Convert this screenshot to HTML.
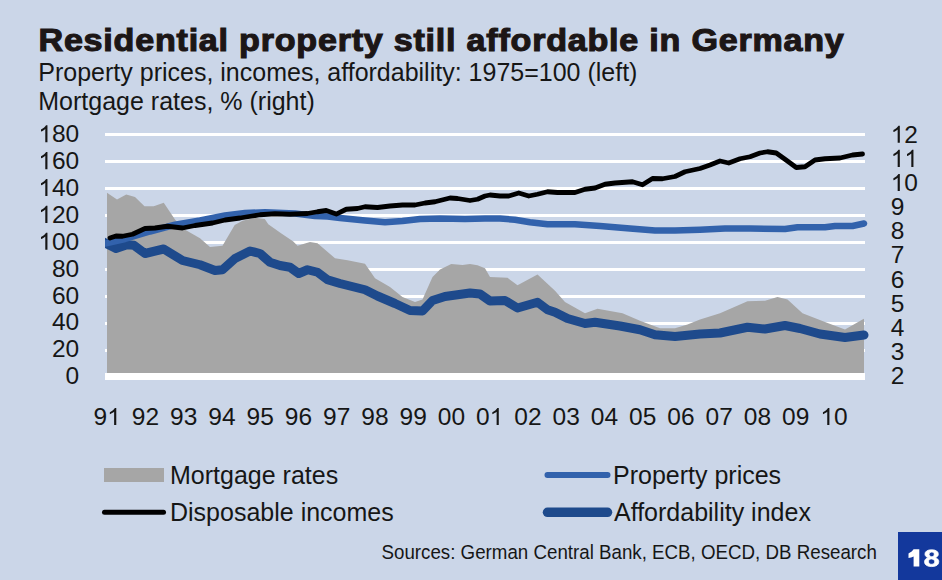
<!DOCTYPE html>
<html><head><meta charset="utf-8"><style>
html,body{margin:0;padding:0;}
body{width:942px;height:580px;overflow:hidden;background:#CBD6E8;position:relative;font-family:"Liberation Sans",sans-serif;}
svg{position:absolute;left:0;top:0;}
text{font-family:"Liberation Sans",sans-serif;fill:#161616;}
</style></head><body>
<svg width="942" height="580" viewBox="0 0 942 580">
<text transform="translate(38.5,51.3) scale(1.1,1)" font-size="31" font-weight="bold" stroke="#1c1616" stroke-width="1.1" letter-spacing="0.7" style="fill:#1c1616">Residential property still affordable in Germany</text>
<text x="38.3" y="81" font-size="25">Property prices, incomes, affordability: 1975=100 (left)</text>
<text x="38.3" y="110.2" font-size="25">Mortgage rates, % (right)</text>
<rect x="105" y="133" width="760" height="3" fill="#fff"/><rect x="105" y="160" width="760" height="3" fill="#fff"/><rect x="105" y="187" width="760" height="3" fill="#fff"/><rect x="105" y="214" width="760" height="3" fill="#fff"/><rect x="105" y="241" width="760" height="3" fill="#fff"/><rect x="105" y="268" width="760" height="3" fill="#fff"/><rect x="105" y="295" width="760" height="3" fill="#fff"/><rect x="105" y="322" width="760" height="3" fill="#fff"/><rect x="105" y="349" width="760" height="3" fill="#fff"/>
<polygon points="107.00,373.00 107.00,192.75 117.00,199.50 126.25,194.50 135.00,197.00 144.50,206.25 153.75,206.25 163.75,202.75 175.00,219.50 182.50,228.25 200.00,238.25 210.00,247.00 222.50,245.75 234.70,225.05 242.50,220.75 255.00,217.75 264.80,219.05 268.30,224.15 280.30,232.75 293.30,241.45 297.50,245.75 310.00,242.00 317.50,243.25 335.00,258.25 347.50,260.25 365.00,263.75 375.00,278.25 390.00,287.00 402.50,297.00 415.00,302.00 422.50,299.50 432.50,277.00 440.00,269.50 451.25,264.00 462.50,265.00 470.00,264.00 477.50,265.25 485.00,268.25 490.00,277.00 507.50,277.75 517.50,285.25 537.50,274.50 555.00,290.75 565.00,302.00 585.00,313.25 597.50,308.75 622.50,313.25 640.00,320.75 660.00,328.25 675.00,328.25 687.50,324.50 700.00,319.50 720.00,313.25 747.50,301.25 765.00,300.75 777.50,297.00 787.50,299.50 802.50,313.25 825.00,322.00 845.00,329.50 862.50,319.50 864.00,318.75 864.00,373.00" fill="#A6A6A6"/>
<rect x="105" y="373" width="760" height="7" fill="#fff"/>
<defs><clipPath id="cp"><rect x="105" y="0" width="837" height="580"/></clipPath></defs><g clip-path="url(#cp)">
<polyline points="103.00,241.80 116.00,248.50 127.00,244.80 134.00,245.30 145.00,253.50 163.75,249.00 182.50,260.50 200.00,264.75 215.00,270.50 222.50,269.75 235.00,258.50 250.00,251.00 260.00,253.50 270.00,262.25 280.00,265.50 290.00,267.25 298.75,273.50 307.50,269.75 317.50,272.25 327.50,279.75 340.00,283.50 365.00,289.75 377.50,296.00 395.00,303.50 410.00,310.50 422.50,311.00 432.50,300.50 445.00,296.50 457.50,294.75 470.00,293.00 480.00,294.00 490.00,301.00 505.00,300.50 517.50,308.00 537.50,302.25 547.50,309.75 555.00,312.25 567.50,318.50 585.00,323.50 595.00,322.25 620.00,326.00 640.00,329.75 655.00,334.75 675.00,336.50 700.00,334.00 720.00,333.00 747.50,327.25 765.00,329.00 785.00,325.50 800.00,328.50 820.00,334.00 845.00,337.50 864.00,335.00" fill="none" stroke="#1E4A8C" stroke-width="9" stroke-linejoin="round" stroke-linecap="round"/>
<polyline points="105.00,243.50 125.00,239.00 150.00,231.50 175.00,224.75 200.00,220.50 225.00,215.50 245.00,213.00 265.00,212.25 295.00,213.50 315.00,216.00 327.50,216.50 340.00,218.00 365.00,220.50 385.00,222.25 402.50,221.00 420.00,219.00 440.00,218.50 465.00,219.00 485.00,218.50 500.00,218.50 515.00,219.75 530.00,222.25 547.50,224.25 575.00,224.25 600.00,226.00 630.00,228.50 655.00,230.50 675.00,230.50 700.00,229.75 725.00,228.50 750.00,228.50 785.00,229.00 797.50,227.25 825.00,227.25 835.00,226.00 852.50,226.00 864.00,223.50" fill="none" stroke="#3262AC" stroke-width="6.5" stroke-linejoin="round" stroke-linecap="round"/>
<polyline points="110.00,238.00 116.00,236.00 122.50,236.25 132.50,234.25 145.00,228.50 155.00,228.00 167.50,226.25 182.50,228.00 195.00,225.50 212.50,223.00 225.00,220.00 240.00,218.00 260.00,214.75 275.00,213.75 290.00,214.25 307.50,213.50 317.50,211.75 326.25,210.50 336.25,214.10 346.25,209.25 357.50,208.50 365.00,206.75 377.50,207.50 390.00,206.00 402.50,205.00 415.00,205.00 425.00,203.00 435.00,201.75 450.00,198.00 457.50,198.50 470.00,200.50 477.50,199.25 485.00,196.00 490.00,195.00 500.00,196.00 508.75,196.00 518.75,193.00 528.75,196.00 537.50,194.25 547.50,191.75 557.50,192.50 575.00,192.50 585.00,189.25 595.00,188.00 605.00,184.25 615.00,183.00 632.50,181.75 642.50,184.75 652.50,178.50 662.50,178.75 675.00,176.50 685.00,171.75 700.00,168.50 710.00,165.00 720.00,161.00 728.75,163.00 740.00,158.75 750.00,156.75 760.00,153.00 767.50,151.75 776.25,153.00 785.00,159.25 796.25,167.50 805.00,166.75 815.00,160.00 825.00,158.75 840.00,158.00 852.50,155.00 862.50,154.00" fill="none" stroke="#000" stroke-width="4.8" stroke-linejoin="round" stroke-linecap="round"/>
</g>
<g font-size="24.5" fill="#161616"><text x="38.32" y="142.30">&#x2007;80</text><path transform="translate(38.32,142.30) scale(0.01196,-0.01196)" d="M763 0H583V1114C540 1074 483 1035 413 995C343 955 280 925 224 904V1073C325 1119 413 1175 488 1241C563 1306 616 1369 647 1430H763Z"/><text x="38.32" y="169.18">&#x2007;60</text><path transform="translate(38.32,169.18) scale(0.01196,-0.01196)" d="M763 0H583V1114C540 1074 483 1035 413 995C343 955 280 925 224 904V1073C325 1119 413 1175 488 1241C563 1306 616 1369 647 1430H763Z"/><text x="38.32" y="196.06">&#x2007;40</text><path transform="translate(38.32,196.06) scale(0.01196,-0.01196)" d="M763 0H583V1114C540 1074 483 1035 413 995C343 955 280 925 224 904V1073C325 1119 413 1175 488 1241C563 1306 616 1369 647 1430H763Z"/><text x="38.32" y="222.94">&#x2007;20</text><path transform="translate(38.32,222.94) scale(0.01196,-0.01196)" d="M763 0H583V1114C540 1074 483 1035 413 995C343 955 280 925 224 904V1073C325 1119 413 1175 488 1241C563 1306 616 1369 647 1430H763Z"/><text x="38.32" y="249.82">&#x2007;00</text><path transform="translate(38.32,249.82) scale(0.01196,-0.01196)" d="M763 0H583V1114C540 1074 483 1035 413 995C343 955 280 925 224 904V1073C325 1119 413 1175 488 1241C563 1306 616 1369 647 1430H763Z"/><text x="51.95" y="276.70">80</text><text x="51.95" y="303.58">60</text><text x="51.95" y="330.46">40</text><text x="51.95" y="357.34">20</text><text x="65.57" y="384.22">0</text><text x="890.70" y="142.80">&#x2007;2</text><path transform="translate(890.70,142.80) scale(0.01196,-0.01196)" d="M763 0H583V1114C540 1074 483 1035 413 995C343 955 280 925 224 904V1073C325 1119 413 1175 488 1241C563 1306 616 1369 647 1430H763Z"/><text x="890.70" y="166.92">&#x2007;&#x2007;</text><path transform="translate(890.70,166.92) scale(0.01196,-0.01196)" d="M763 0H583V1114C540 1074 483 1035 413 995C343 955 280 925 224 904V1073C325 1119 413 1175 488 1241C563 1306 616 1369 647 1430H763Z"/><path transform="translate(904.33,166.92) scale(0.01196,-0.01196)" d="M763 0H583V1114C540 1074 483 1035 413 995C343 955 280 925 224 904V1073C325 1119 413 1175 488 1241C563 1306 616 1369 647 1430H763Z"/><text x="890.70" y="191.04">&#x2007;0</text><path transform="translate(890.70,191.04) scale(0.01196,-0.01196)" d="M763 0H583V1114C540 1074 483 1035 413 995C343 955 280 925 224 904V1073C325 1119 413 1175 488 1241C563 1306 616 1369 647 1430H763Z"/><text x="890.70" y="215.16">9</text><text x="890.70" y="239.28">8</text><text x="890.70" y="263.40">7</text><text x="890.70" y="287.52">6</text><text x="890.70" y="311.64">5</text><text x="890.70" y="335.76">4</text><text x="890.70" y="359.88">3</text><text x="890.70" y="384.00">2</text><text x="93.52" y="425.00">9&#x2007;</text><path transform="translate(107.15,425.00) scale(0.01196,-0.01196)" d="M763 0H583V1114C540 1074 483 1035 413 995C343 955 280 925 224 904V1073C325 1119 413 1175 488 1241C563 1306 616 1369 647 1430H763Z"/><text x="131.77" y="425.00">92</text><text x="170.02" y="425.00">93</text><text x="208.27" y="425.00">94</text><text x="246.52" y="425.00">95</text><text x="284.77" y="425.00">96</text><text x="323.02" y="425.00">97</text><text x="361.27" y="425.00">98</text><text x="399.52" y="425.00">99</text><text x="437.77" y="425.00">00</text><text x="476.02" y="425.00">0&#x2007;</text><path transform="translate(489.65,425.00) scale(0.01196,-0.01196)" d="M763 0H583V1114C540 1074 483 1035 413 995C343 955 280 925 224 904V1073C325 1119 413 1175 488 1241C563 1306 616 1369 647 1430H763Z"/><text x="514.27" y="425.00">02</text><text x="552.52" y="425.00">03</text><text x="590.77" y="425.00">04</text><text x="629.02" y="425.00">05</text><text x="667.27" y="425.00">06</text><text x="705.52" y="425.00">07</text><text x="743.77" y="425.00">08</text><text x="782.02" y="425.00">09</text><text x="820.27" y="425.00">&#x2007;0</text><path transform="translate(820.27,425.00) scale(0.01196,-0.01196)" d="M763 0H583V1114C540 1074 483 1035 413 995C343 955 280 925 224 904V1073C325 1119 413 1175 488 1241C563 1306 616 1369 647 1430H763Z"/></g>
<rect x="104" y="468" width="60" height="14" fill="#A6A6A6"/>
<line x1="104.5" y1="512.2" x2="163.5" y2="512.2" stroke="#000" stroke-width="5" stroke-linecap="round"/>
<line x1="547.5" y1="475" x2="607.5" y2="475" stroke="#3262AC" stroke-width="6" stroke-linecap="round"/>
<line x1="547.5" y1="512.3" x2="607.5" y2="512.3" stroke="#1E4A8C" stroke-width="9.5" stroke-linecap="round"/>
<g font-size="25">
<text x="170" y="484">Mortgage rates</text>
<text x="170" y="520.5">Disposable incomes</text>
<text x="613" y="484">Property prices</text>
<text x="614" y="520.5">Affordability index</text>
</g>
<text transform="translate(381.5,559) scale(0.961,1)" font-size="19.5">Sources: German Central Bank, ECB, OECD, DB Research</text>
<rect x="898" y="532" width="44" height="48" fill="#13389C"/>
<path d="M908.5 553.4C910.6 552.4 912.4 551 913.6 549.2H919.3V566.4H913.6V556.4C912 557.1 910.3 557.6 908.5 558Z" fill="#fff"/><path transform="translate(923.581,566.350) scale(0.014144,-0.011586)" d="M1076 397Q1076 199 945.0 89.5Q814 -20 571 -20Q330 -20 197.5 89.0Q65 198 65 395Q65 530 143.0 622.5Q221 715 352 737V741Q238 766 168.0 854.0Q98 942 98 1057Q98 1230 220.5 1330.0Q343 1430 567 1430Q796 1430 918.5 1332.5Q1041 1235 1041 1055Q1041 940 971.5 853.0Q902 766 785 743V739Q921 717 998.5 627.5Q1076 538 1076 397ZM752 1040Q752 1140 706.0 1186.5Q660 1233 567 1233Q385 1233 385 1040Q385 838 569 838Q661 838 706.5 885.0Q752 932 752 1040ZM785 420Q785 641 565 641Q463 641 408.5 583.0Q354 525 354 416Q354 292 408.0 235.0Q462 178 573 178Q682 178 733.5 235.0Q785 292 785 420Z" fill="#fff" stroke="#fff" stroke-width="0.8" vector-effect="non-scaling-stroke"/>
</svg>
</body></html>
